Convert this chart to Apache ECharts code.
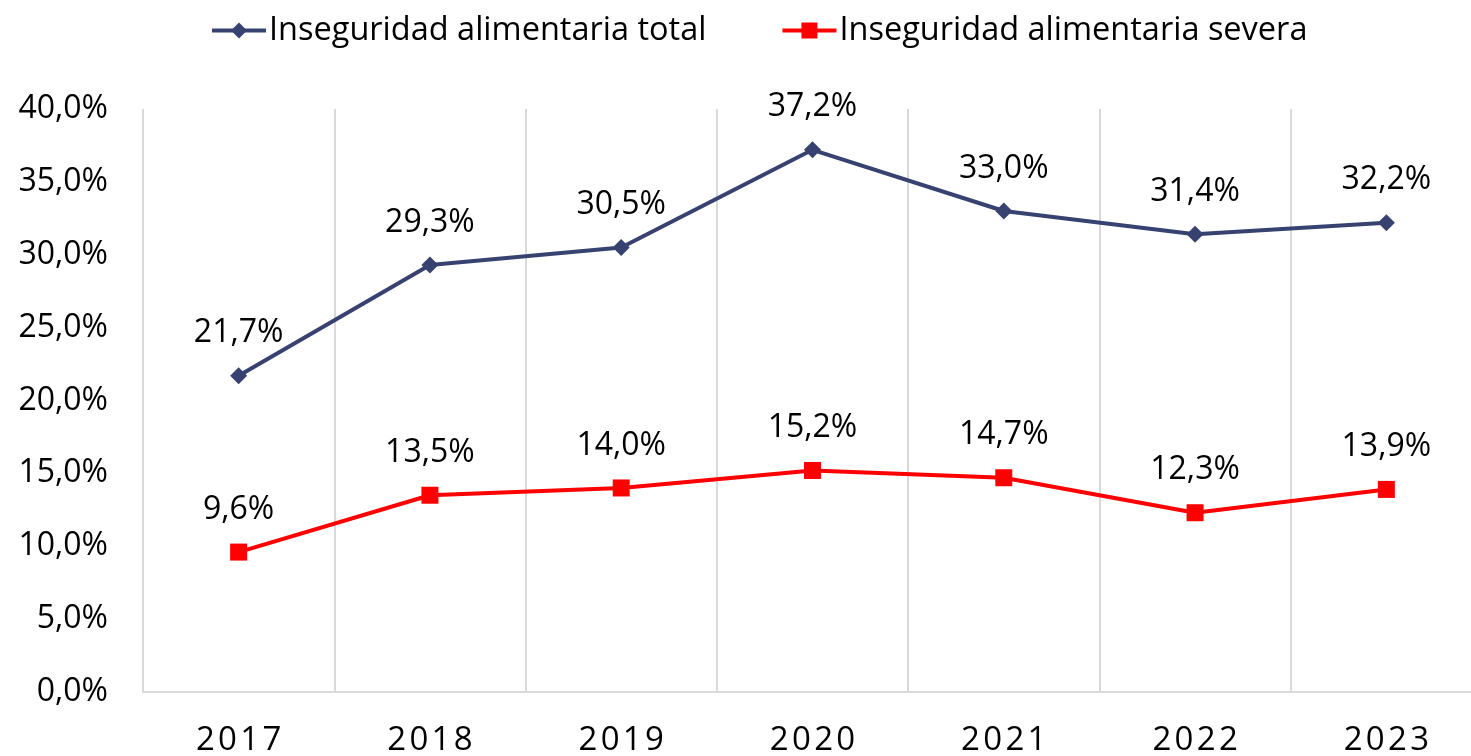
<!DOCTYPE html>
<html><head><meta charset="utf-8">
<script src="https://cdn.jsdelivr.net/npm/echarts@6/dist/echarts.min.js"></script>
<style>html,body{margin:0;padding:0;background:#fff}#c{width:1471px;height:756px}</style>
</head><body><div id="c"></div>
<script>
const categories = ['2017','2018','2019','2020','2021','2022','2023'];
const totalValues = [21.7, 29.3, 30.5, 37.2, 33.0, 31.4, 32.2];
const severeValues = [9.6, 13.5, 14.0, 15.2, 14.7, 12.3, 13.9];
const seriesNames = ['Inseguridad alimentaria total', 'Inseguridad alimentaria severa'];

const FONT = 'Open Sans';
const fmt = v => v.toFixed(1).replace('.', ',') + '%';
const chart = echarts.init(document.getElementById('c'));
chart.setOption({
  animation: false,
  textStyle: { fontFamily: FONT, color: '#000' },
  legend: {
    top: 9, left: 205, itemGap: 74, itemWidth: 54, itemHeight: 20,
    lineStyle: { width: 4 },
    textStyle: { fontSize: 32.5, color: '#000', fontFamily: FONT, padding: [0, 0, 0, -2] },
    data: seriesNames
  },
  grid: { left: 143, width: 1339, top: 109, bottom: 64, outerBoundsMode: 'none', containLabel: false },
  xAxis: {
    type: 'category', data: categories, boundaryGap: true,
    axisLine: { lineStyle: { color: '#d9d9d9', width: 2 } },
    axisTick: { show: false },
    splitLine: { show: true, lineStyle: { color: '#d9d9d9', width: 2 } },
    axisLabel: { fontSize: 33, color: '#000', margin: 32, fontFamily: FONT,
      formatter: v => v.split('').join('\u200A') }
  },
  yAxis: {
    type: 'value', min: 0, max: 40, interval: 5,
    axisLine: { show: false }, axisTick: { show: false }, splitLine: { show: false },
    axisLabel: { fontSize: 32, color: '#000', margin: 35, fontFamily: FONT, formatter: fmt }
  },
  series: [
    { name: seriesNames[0], type: 'line', data: totalValues,
      symbol: 'diamond', symbolSize: 17,
      lineStyle: { color: '#374270', width: 4 }, itemStyle: { color: '#374270' },
      label: { show: true, position: 'top', distance: 18, fontSize: 32, color: '#000', formatter: p => fmt(p.value) } },
    { name: seriesNames[1], type: 'line', data: severeValues,
      symbol: 'rect', symbolSize: 17,
      lineStyle: { color: '#ff0000', width: 4 }, itemStyle: { color: '#ff0000' },
      label: { show: true, position: 'top', distance: 18, fontSize: 32, color: '#000', formatter: p => fmt(p.value) } }
  ]
});
</script></body></html>
